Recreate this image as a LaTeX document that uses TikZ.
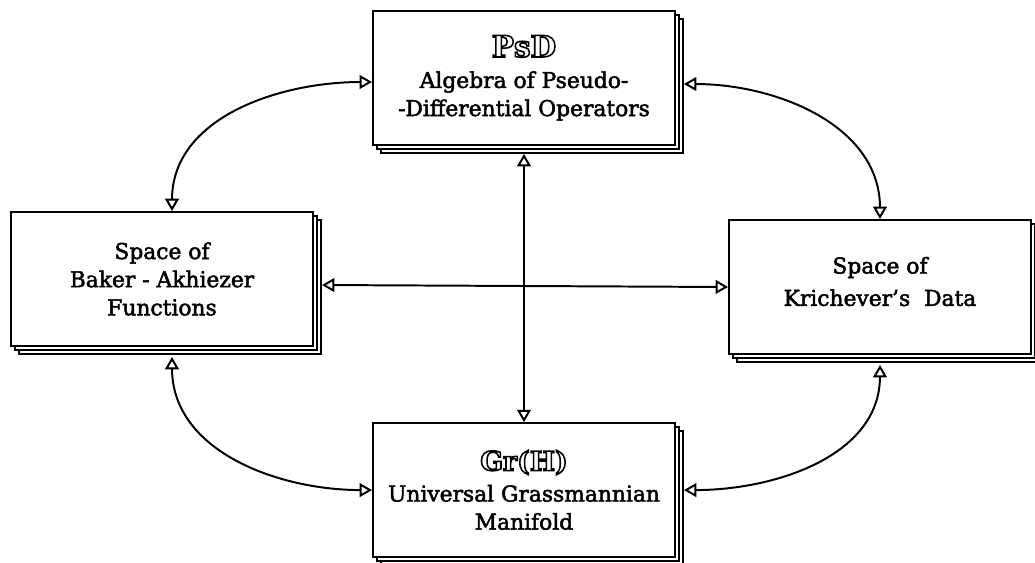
\documentclass[tikz,border=0pt]{standalone}
\usepackage{fontspec}
\setmainfont{DejaVu Serif}
\usetikzlibrary{arrows}
\usetikzlibrary{shadows}
\usetikzlibrary{positioning}
% heavy body text and hollow headings
\newcommand{\heavy}{\special{pdf:literal direct 2 Tr 0.35 w}}
\newcommand{\outl}[1]{\special{pdf:literal direct 1 Tr 1.1 w}#1\heavy}

\begin{document}
\begin{tikzpicture}[x=0.025cm, y=-0.025cm,
                    <->,
                    >=open triangle 60,
                    line width=1.4pt,
                    node distance=6.9cm,
                    sheet/.style={rectangle, draw, fill=white, line width=1.4pt,
                                  minimum width=7.55cm, minimum height=3.35cm,
                                  align=center, font=\fontsize{15.5}{20}\selectfont\heavy,
                                  double copy shadow={shadow xshift=0.1cm, shadow yshift=-0.1cm}}
                    ]
  \useasboundingbox (0,0) rectangle (1035,562);
  \node[sheet] (psd) at (524,78) {{\fontsize{21}{24}\selectfont\bfseries\outl{PsD}}\\[2pt] Algebra of Pseudo-\\ -Differential Operators};
  \node[sheet] (bak) at (162,279) {Space of\\ Baker - Akhiezer\\ Functions};
  \node[sheet] (kri) at (880,287) {Space of\\[3pt] Krichever's\ \ Data\\[-12pt]};
  \node[sheet] (grh) [below=of psd] {{\fontsize{19}{24}\selectfont\bfseries\outl{Gr(H)}}\\[2pt] Universal Grassmannian\\ Manifold};
  \draw ([yshift=-0.1cm]psd.west) to[out=180,in=90] ([xshift=0.25cm]bak.north);
  \draw ([xshift=0.2cm,yshift=-0.15cm]psd.east) to[out=0,in=90] (kri.north);
  \draw ([xshift=0.25cm,yshift=-0.25cm]bak.south) to[out=-90,in=180] (grh.west);
  \draw ([yshift=-0.25cm]kri.south) to[out=-90,in=0] ([xshift=0.2cm]grh.east);
  \draw ([yshift=-0.2cm]psd.south) -- (grh.north);
  \draw ([xshift=0.2cm,yshift=-0.15cm]bak.east) -- (kri.west);
\end{tikzpicture}
\end{document}
